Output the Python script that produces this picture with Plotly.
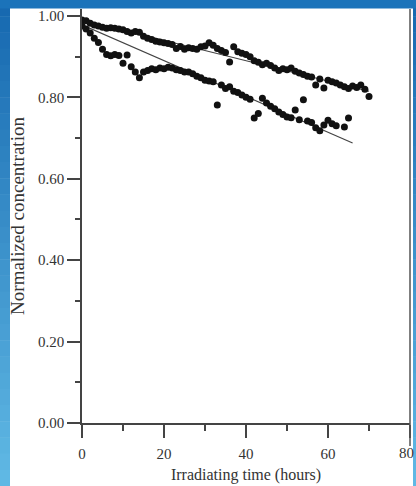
import plotly.graph_objects as go

# ---- data ----
upper_t = list(range(0, 71))
upper_c = [0.990, 0.988, 0.982, 0.978, 0.975, 0.972, 0.970, 0.971, 0.970, 0.968,
           0.966, 0.962, 0.958, 0.962, 0.960, 0.950, 0.945, 0.942, 0.938, 0.936,
           0.934, 0.932, 0.930, 0.920, 0.925, 0.918, 0.922, 0.920, 0.918, 0.924,
           0.926, 0.934, 0.928, 0.920, 0.915, 0.910, 0.887, 0.924, 0.912, 0.908,
           0.905, 0.900, 0.890, 0.886, 0.880, 0.884, 0.878, 0.872, 0.866, 0.870,
           0.868, 0.872, 0.864, 0.860, 0.856, 0.852, 0.850, 0.830, 0.845, 0.823,
           0.842, 0.838, 0.835, 0.830, 0.826, 0.822, 0.828, 0.824, 0.830, 0.820,
           0.802]

lower_t = list(range(0, 63)) + [64, 65]
lower_c = [0.975, 0.968, 0.958, 0.945, 0.935, 0.918, 0.905, 0.902, 0.905, 0.903,
           0.884, 0.904, 0.875, 0.862, 0.848, 0.862, 0.866, 0.870, 0.868, 0.872,
           0.870, 0.874, 0.872, 0.868, 0.866, 0.862, 0.862, 0.858, 0.852, 0.848,
           0.842, 0.840, 0.838, 0.781, 0.830, 0.822, 0.826, 0.815, 0.812, 0.806,
           0.800, 0.795, 0.749, 0.760, 0.798, 0.786, 0.778, 0.772, 0.764, 0.758,
           0.752, 0.750, 0.769, 0.745, 0.794, 0.742, 0.738, 0.725, 0.718, 0.732,
           0.744, 0.735, 0.730, 0.727, 0.749]

upper_fit_t = [0, 70]
upper_fit_c = [0.990, 0.815]
lower_fit_t = [0, 66]
lower_fit_c = [0.978, 0.688]

x_ticks = [0, 20, 40, 60, 80]
x_title = "Irradiating time (hours)"
y_title = "Normalized concentration"

# ---- figure ----
W, H = 416, 486
L, R, T, B = 82, 410, 9, 423

def xp(px):
    return (px - L) / (R - L)

def yp(py):
    return (B - py) / (B - T)

fig = go.Figure()

fig.add_trace(go.Scatter(x=upper_fit_t, y=upper_fit_c, mode="lines",
                         line=dict(color="#444", width=1.2), showlegend=False, hoverinfo="skip"))
fig.add_trace(go.Scatter(x=lower_fit_t, y=lower_fit_c, mode="lines",
                         line=dict(color="#444", width=1.2), showlegend=False, hoverinfo="skip"))
fig.add_trace(go.Scatter(x=upper_t, y=upper_c, mode="markers",
                         marker=dict(color="#111", size=7), showlegend=False))
fig.add_trace(go.Scatter(x=lower_t, y=lower_c, mode="markers",
                         marker=dict(color="#111", size=7), showlegend=False))

# blue frame (styling)
shapes = []
top_col = (23, 105, 176)
bot_col = (95, 184, 228)
n = 30
for i in range(n):
    f = i / (n - 1)
    col = "rgb(%d,%d,%d)" % tuple(round(top_col[k] + (bot_col[k] - top_col[k]) * f) for k in range(3))
    py0 = i * H / n
    py1 = (i + 1) * H / n + 0.5
    for (xa, xb) in [(0, 10), (413, 417)]:
        shapes.append(dict(type="rect", xref="paper", yref="paper", layer="below",
                           x0=xp(xa), x1=xp(xb), y0=yp(py1), y1=yp(py0),
                           fillcolor=col, line=dict(width=0)))
shapes.append(dict(type="rect", xref="paper", yref="paper", layer="below",
                   x0=xp(0), x1=xp(417), y0=yp(8.5), y1=yp(-1),
                   fillcolor="rgb(27,115,186)", line=dict(width=0)))
shapes.append(dict(type="line", xref="paper", yref="paper",
                   x0=1, x1=1, y0=yp(446), y1=1, line=dict(color="#555", width=1.5)))
fig.update_layout(shapes=shapes)

# last tick label, kept just inside the page edge
fig.add_annotation(x=x_ticks[-1], y=0, xref="x", yref="y", text=str(x_ticks[-1]),
                   showarrow=False, yanchor="top", yshift=-20, xshift=-4,
                   font=dict(family="Liberation Serif, serif", size=15, color="#333"))

font_fam = "Liberation Serif, Times New Roman, serif"
fig.update_layout(
    width=W, height=H,
    margin=dict(l=L, r=W - R, t=T, b=H - B),
    paper_bgcolor="white", plot_bgcolor="white",
    font=dict(family=font_fam, color="#333", size=14),
    xaxis=dict(range=[0, 80], tickvals=x_ticks, showgrid=False, zeroline=False,
               showline=True, linecolor="#444", linewidth=1.5,
               ticks="outside", ticklen=13, tickwidth=1.5, tickcolor="#444",
               minor=dict(dtick=10, ticks="outside", ticklen=6, tickwidth=1.5, tickcolor="#444"),
               tickfont=dict(size=15, color="#333"), ticklabelstandoff=3,
               title=dict(text=x_title, font=dict(size=16, color="#333"), standoff=8)),
    yaxis=dict(range=[0, 1.017], dtick=0.2, tick0=0, tickformat=".2f", showgrid=False,
               zeroline=False, showline=True, linecolor="#444", linewidth=1.5,
               ticks="outside", ticklen=13, tickwidth=1.5, tickcolor="#444",
               minor=dict(dtick=0.1, ticks="outside", ticklen=5, tickwidth=1.5, tickcolor="#444"),
               tickfont=dict(size=15, color="#333"),
               title=dict(text=y_title, font=dict(size=19, color="#333"), standoff=8)),
)

fig.write_html("out.html")
